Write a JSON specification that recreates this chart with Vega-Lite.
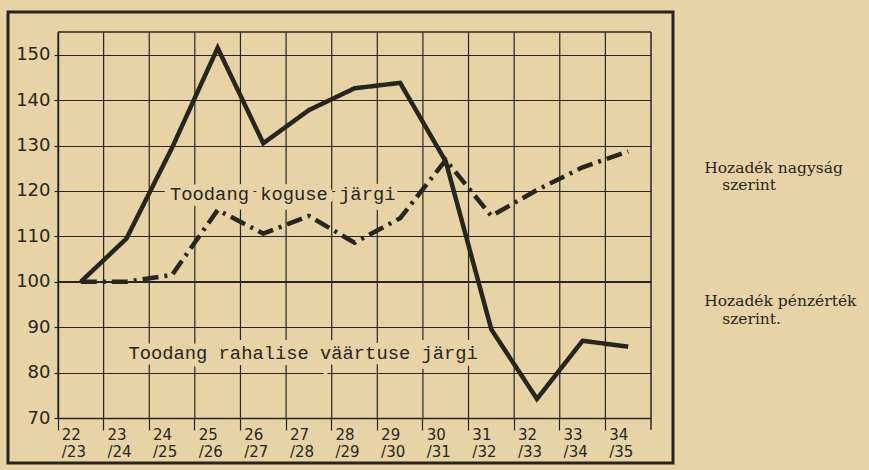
{
  "$schema": "https://vega.github.io/schema/vega-lite/v6.json",
  "autosize": "none",
  "width": 665,
  "height": 451,
  "padding": {"left": 8, "top": 12, "right": 196, "bottom": 7},
  "background": "#e8d3a6",
  "config": {
    "view": {"stroke": "#26261f", "strokeWidth": 3},
    "axis": {"domainColor": "#26261f", "tickColor": "#26261f", "gridColor": "#26261f", "gridOpacity": 1, "labelColor": "#26261f"}
  },
  "data": {"values": [
    {"season": "22/23", "series": "raha", "v": 100},
    {"season": "23/24", "series": "raha", "v": 109.5},
    {"season": "24/25", "series": "raha", "v": 129.5},
    {"season": "25/26", "series": "raha", "v": 151.5},
    {"season": "26/27", "series": "raha", "v": 130.5},
    {"season": "27/28", "series": "raha", "v": 137.8},
    {"season": "28/29", "series": "raha", "v": 142.6},
    {"season": "29/30", "series": "raha", "v": 143.8},
    {"season": "30/31", "series": "raha", "v": 126.5},
    {"season": "31/32", "series": "raha", "v": 89.5},
    {"season": "32/33", "series": "raha", "v": 74.2},
    {"season": "33/34", "series": "raha", "v": 87},
    {"season": "34/35", "series": "raha", "v": 85.7},
    {"season": "22/23", "series": "kogus", "v": 100},
    {"season": "23/24", "series": "kogus", "v": 100},
    {"season": "24/25", "series": "kogus", "v": 101.5},
    {"season": "25/26", "series": "kogus", "v": 115.8},
    {"season": "26/27", "series": "kogus", "v": 110.6},
    {"season": "27/28", "series": "kogus", "v": 114.5},
    {"season": "28/29", "series": "kogus", "v": 108.6},
    {"season": "29/30", "series": "kogus", "v": 114},
    {"season": "30/31", "series": "kogus", "v": 126.8},
    {"season": "31/32", "series": "kogus", "v": 114.5},
    {"season": "32/33", "series": "kogus", "v": 120.2},
    {"season": "33/34", "series": "kogus", "v": 125.2},
    {"season": "34/35", "series": "kogus", "v": 128.7}
  ]},
  "encoding": {
    "x": {"field": "season", "type": "ordinal", "scale": {"type": "band", "paddingInner": 0, "paddingOuter": 0, "range": [50, 643]},
      "axis": {"title": null, "offset": -45, "bandPosition": 0, "grid": false, "domainWidth": 1.5, "tickSize": 12, "tickWidth": 1.2,
        "labelAngle": 0, "labelAlign": "left", "labelOffset": -19, "labelBaseline": "top", "labelPadding": -3, "labelLineHeight": 17,
        "labelFont": "DejaVu Sans", "labelFontSize": 15,
        "labelExpr": "[split(datum.label,'/')[0], '/' + split(datum.label,'/')[1]]"}},
    "y": {"type": "quantitative", "scale": {"domain": [70, 155], "nice": false, "zero": false, "range": [406, 20]},
      "axis": {"title": null, "offset": -50, "values": [70, 80, 90, 100, 110, 120, 130, 140, 150], "grid": true, "gridWidth": 1.2, "domainWidth": 1.5,
        "tickSize": 4, "tickWidth": 1.2, "labelFont": "DejaVu Sans", "labelFontSize": 18, "labelPadding": 4}}
  },
  "layer": [
    {
      "transform": [{"filter": "datum.series == 'raha'"}],
      "mark": {"type": "rule", "color": "#26261f", "strokeWidth": 1.2},
      "encoding": {"x": {"field": "season", "bandPosition": 0}, "y": {"datum": 155}, "y2": {"datum": 70}}
    },
    {
      "mark": {"type": "line", "color": "#26261f", "strokeWidth": 4.5, "strokeCap": "butt", "strokeJoin": "miter"},
      "encoding": {
        "y": {"field": "v"},
        "strokeDash": {"field": "series", "type": "nominal", "scale": {"domain": ["raha", "kogus"], "range": [[1, 0], [16, 6, 3, 6]]}, "legend": null}
      }
    },
    {
      "data": {"values": [{"base": 100, "a": "22/23", "b": "34/35"}, {"base": 155, "a": "22/23", "b": "34/35"}]},
      "mark": {"type": "rule", "color": "#26261f", "strokeWidth": 1.5},
      "encoding": {"x": {"field": "a", "bandPosition": 0}, "x2": {"field": "b", "bandPosition": 1}, "y": {"field": "base", "type": "quantitative"},
        "strokeWidth": {"condition": {"test": "datum.base == 100", "value": 2.8}, "value": 1.5}}
    },
    {
      "data": {"values": [{"s": "34/35", "lo": 67.4, "hi": 155}]},
      "mark": {"type": "rule", "color": "#26261f", "strokeWidth": 1.5},
      "encoding": {"x": {"field": "s", "bandPosition": 1}, "y": {"field": "lo", "type": "quantitative"}, "y2": {"field": "hi"}}
    },
    {
      "data": {"values": [{"t": "Toodang koguse järgi", "s": "24/25", "v": 119.4}]},
      "mark": {"type": "text", "font": "Liberation Mono", "fontSize": 18.8, "align": "left", "baseline": "middle", "dx": -2, "stroke": "#e8d3a6", "strokeWidth": 12, "fill": "#e8d3a6"},
      "encoding": {"x": {"field": "s"}, "y": {"field": "v"}, "text": {"field": "t"}}
    },
    {
      "data": {"values": [{"t": "Toodang koguse järgi", "s": "24/25", "v": 119.4}]},
      "mark": {"type": "text", "font": "Liberation Mono", "fontSize": 18.8, "align": "left", "baseline": "middle", "dx": -2, "fill": "#26261f"},
      "encoding": {"x": {"field": "s"}, "y": {"field": "v"}, "text": {"field": "t"}}
    },
    {
      "data": {"values": [{"t": "Toodang rahalise väärtuse järgi", "s": "23/24", "v": 84.4}]},
      "mark": {"type": "text", "font": "Liberation Mono", "fontSize": 18.8, "align": "left", "baseline": "middle", "dx": 2, "stroke": "#e8d3a6", "strokeWidth": 12, "fill": "#e8d3a6"},
      "encoding": {"x": {"field": "s"}, "y": {"field": "v"}, "text": {"field": "t"}}
    },
    {
      "data": {"values": [{"t": "Toodang rahalise väärtuse järgi", "s": "23/24", "v": 84.4}]},
      "mark": {"type": "text", "font": "Liberation Mono", "fontSize": 18.8, "align": "left", "baseline": "middle", "dx": 2, "fill": "#26261f"},
      "encoding": {"x": {"field": "s"}, "y": {"field": "v"}, "text": {"field": "t"}}
    },
    {
      "data": {"values": [{"t": "Hozadék nagyság", "s": "34/35", "v": 124.0}, {"t": "Hozadék  pénzérték", "s": "34/35", "v": 94.6}]},
      "mark": {"type": "text", "font": "DejaVu Serif", "fontSize": 15.5, "align": "left", "baseline": "alphabetic", "dx": 76, "fill": "#26261f"},
      "encoding": {"x": {"field": "s"}, "y": {"field": "v"}, "text": {"field": "t"}}
    },
    {
      "data": {"values": [{"t": "szerint", "s": "34/35", "v": 120.2}, {"t": "szerint.", "s": "34/35", "v": 90.6}]},
      "mark": {"type": "text", "font": "DejaVu Serif", "fontSize": 15.5, "align": "left", "baseline": "alphabetic", "dx": 94, "fill": "#26261f"},
      "encoding": {"x": {"field": "s"}, "y": {"field": "v"}, "text": {"field": "t"}}
    }
  ]
}
